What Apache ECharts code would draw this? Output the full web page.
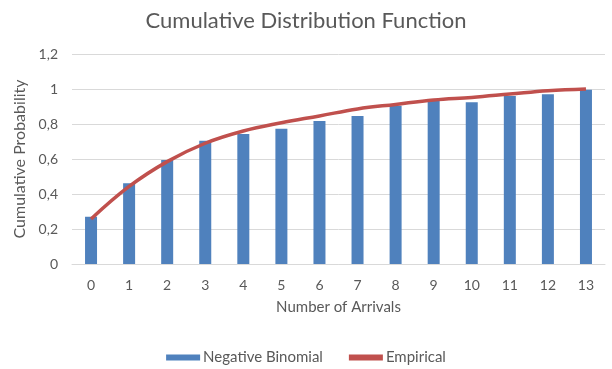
<!DOCTYPE html>
<html>
<head>
<meta charset="utf-8">
<script src="https://cdn.jsdelivr.net/npm/echarts@6/dist/echarts.min.js"></script>
<style>
  html, body { margin: 0; padding: 0; background: #fff; }
  #chart { width: 612px; height: 369px; }
</style>
</head>
<body>
<div id="chart"></div>
<script>
// Number of arrivals (x-axis categories)
const arrivals = ['0', '1', '2', '3', '4', '5', '6', '7', '8', '9', '10', '11', '12', '13'];

// Fitted negative binomial CDF
const negativeBinomial = [0.270, 0.461, 0.594, 0.705, 0.743, 0.773, 0.817, 0.846, 0.905, 0.931, 0.924, 0.960, 0.970, 0.996];

// Observed empirical CDF
const empirical = [0.257, 0.443, 0.585, 0.690, 0.760, 0.807, 0.846, 0.886, 0.912, 0.937, 0.952, 0.971, 0.990, 1.000];

const FONT = 'Lato, "Open Sans", sans-serif';
const TEXT = '#595959';

const chart = echarts.init(document.getElementById('chart'), null, { renderer: 'canvas' });
chart.setOption({
  animation: false,
  title: {
    text: 'Cumulative Distribution Function',
    left: 'center',
    top: 5,
    textStyle: { fontFamily: FONT, fontSize: 22, fontWeight: 'normal', color: TEXT }
  },
  grid: { left: 72, right: 7, top: 54, bottom: 105 },
  legend: {
    bottom: -1,
    left: 'center',
    itemGap: 26,
    itemWidth: 34,
    itemHeight: 6,
    textStyle: { fontFamily: FONT, fontSize: 15, color: TEXT, padding: [0, 0, 0, -2] },
    data: [
      { name: 'Negative Binomial', icon: 'rect' },
      { name: 'Empirical', icon: 'rect', itemStyle: { color: '#C0504D' } }
    ]
  },
  xAxis: {
    type: 'category',
    data: arrivals,
    name: 'Number of Arrivals',
    nameLocation: 'middle',
    nameGap: 36,
    nameTextStyle: { fontFamily: FONT, fontSize: 15, color: TEXT },
    axisLine: { lineStyle: { color: '#D9D9D9', width: 1 } },
    axisTick: { show: false },
    axisLabel: { fontFamily: FONT, fontSize: 14, color: TEXT, margin: 14 }
  },
  yAxis: {
    type: 'value',
    min: 0,
    max: 1.2,
    interval: 0.2,
    name: 'Cumulative Probability',
    nameLocation: 'middle',
    nameGap: 41,
    nameTextStyle: { fontFamily: FONT, fontSize: 16, color: TEXT },
    axisLine: { show: false },
    axisTick: { show: false },
    splitLine: { lineStyle: { color: '#D9D9D9', width: 1 } },
    axisLabel: {
      fontFamily: FONT,
      fontSize: 14,
      color: TEXT,
      margin: 14,
      formatter: v => String(Math.round(v * 10) / 10).replace('.', ',')
    }
  },
  series: [
    {
      name: 'Negative Binomial',
      type: 'bar',
      data: negativeBinomial,
      barWidth: 12,
      itemStyle: { color: '#4F81BD' }
    },
    {
      name: 'Empirical',
      type: 'line',
      data: empirical,
      smooth: 0.4,
      symbol: 'none',
      lineStyle: { color: '#C0504D', width: 3.5 },
      itemStyle: { color: '#C0504D' }
    }
  ]
});
</script>
</body>
</html>
